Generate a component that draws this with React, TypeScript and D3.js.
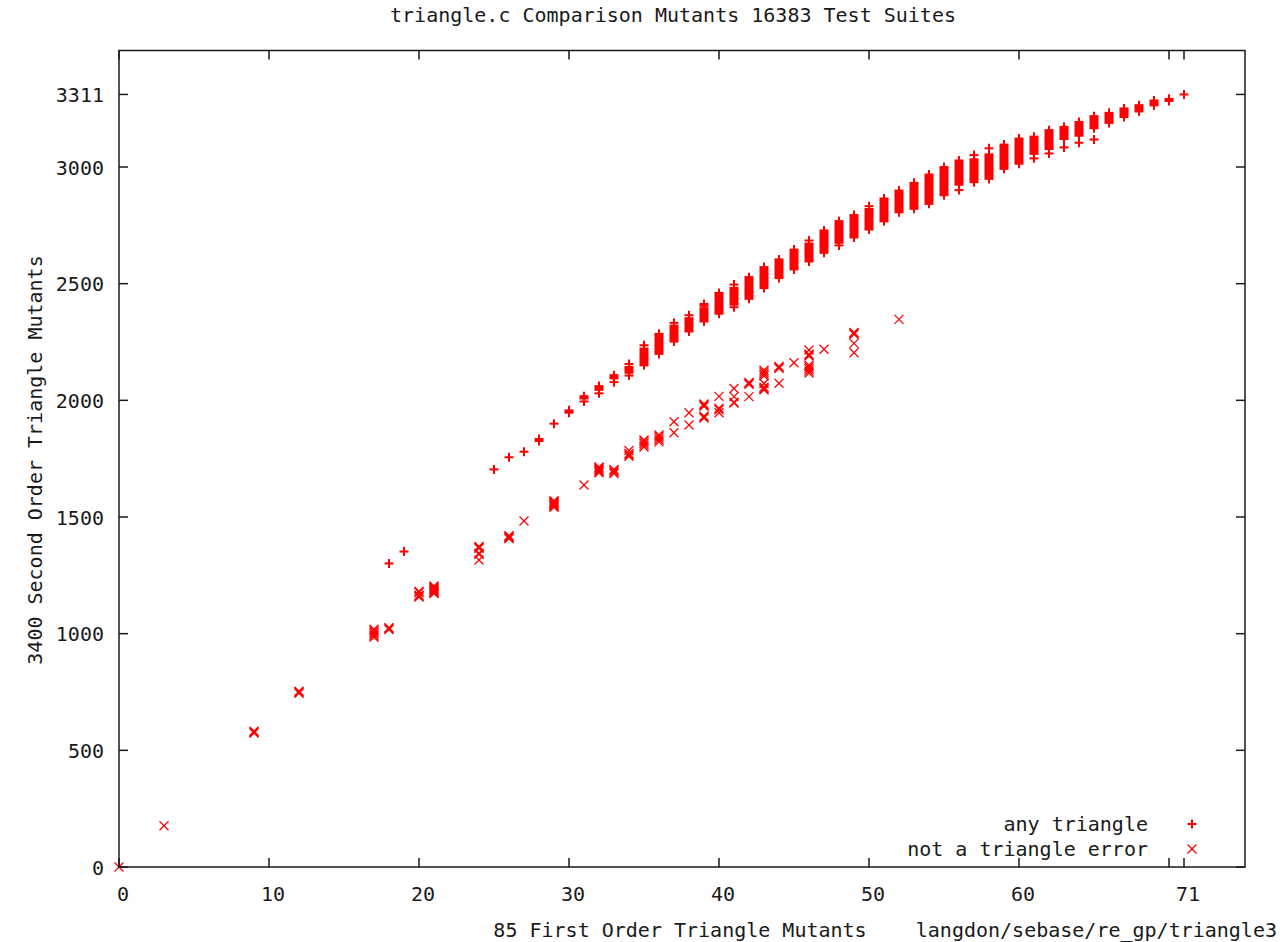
import React from "react";
import * as d3 from "d3";

const TITLE = "triangle.c Comparison Mutants 16383 Test Suites";
const X_LABEL = "85 First Order Triangle Mutants";
const Y_LABEL = "3400 Second Order Triangle Mutants";
const CREDIT = "langdon/sebase/re_gp/triangle3";
const LEGEND = ["any triangle", "not a triangle error"];

const X_TICKS = [0, 10, 20, 30, 40, 50, 60, 70, 71];
const X_TICK_LABELS = ["0", "10", "20", "30", "40", "50", "60", "", "71"];
const Y_TICKS = [0, 500, 1000, 1500, 2000, 2500, 3000, 3311];

// "any triangle": range of second-order kills at each first-order count
const anyX = [18, 19, 25, 26, 27, 28, 29, 30, 31, 32, 33, 34, 35, 36, 37, 38, 39, 40, 41, 42, 43, 44, 45, 46, 47, 48, 49, 50, 51, 52, 53, 54, 55, 56, 57, 58, 59, 60, 61, 62, 63, 64, 65, 66, 67, 68, 69, 70, 71];
const anyLo = [1301, 1352, 1704, 1756, 1780, 1826, 1900, 1947, 2008, 2045, 2094, 2118, 2150, 2199, 2252, 2295, 2338, 2371, 2410, 2435, 2481, 2524, 2561, 2595, 2632, 2675, 2698, 2732, 2767, 2806, 2821, 2842, 2879, 2924, 2935, 2949, 2992, 3014, 3056, 3077, 3120, 3134, 3166, 3189, 3214, 3238, 3264, 3283, 3311];
const anyHi = [1301, 1352, 1704, 1756, 1780, 1834, 1900, 1957, 2018, 2061, 2108, 2143, 2222, 2285, 2320, 2352, 2395, 2460, 2482, 2528, 2571, 2604, 2646, 2672, 2728, 2768, 2794, 2820, 2865, 2899, 2932, 2968, 3000, 3028, 3033, 3054, 3096, 3122, 3130, 3158, 3172, 3193, 3218, 3232, 3251, 3265, 3285, 3292, 3311];
// isolated "any triangle" points outside the dense ranges
const anyExtraX = [31, 32, 33, 34, 34, 35, 37, 38, 39, 39, 41, 41, 46, 48, 50, 56, 57, 58, 61, 62, 63, 64, 65];
const anyExtraY = [1995, 2030, 2078, 2156, 2106, 2236, 2332, 2365, 2405, 2413, 2496, 2399, 2685, 2664, 2832, 2901, 3051, 3080, 3037, 3058, 3084, 3104, 3118];

// "not a triangle error" points
const errX = [0, 3, 9, 12, 17, 18, 20, 21, 24, 26, 27, 29, 31, 32, 33, 34, 35, 36, 37, 38, 39, 40, 41, 42, 43, 44, 45, 46, 47, 49, 52];
const errY: number[][] = [
  [0],
  [177],
  [574, 578, 582],
  [745, 749, 753],
  [985, 992, 999, 1006, 1013, 1019],
  [1018, 1022, 1026],
  [1157, 1161, 1165, 1176, 1182],
  [1172, 1176, 1180, 1184, 1188, 1192, 1196, 1200, 1204],
  [1316, 1340, 1345, 1366, 1370, 1374],
  [1408, 1412, 1416, 1420],
  [1483],
  [1542, 1546, 1550, 1554, 1558, 1562, 1566, 1570],
  [1637],
  [1690, 1695, 1700, 1705, 1710, 1714],
  [1686, 1692, 1698, 1704],
  [1760, 1766, 1772, 1785],
  [1800, 1808, 1816, 1824, 1830],
  [1822, 1830, 1838, 1846, 1852],
  [1861, 1908],
  [1894, 1947],
  [1924, 1928, 1932, 1975, 1980, 1984],
  [1947, 1960, 1966, 2017],
  [1988, 1992, 2016, 2051],
  [2016, 2069, 2073, 2077],
  [2045, 2050, 2056, 2072, 2105, 2113, 2121, 2129],
  [2073, 2137, 2141, 2145],
  [2161],
  [2117, 2126, 2135, 2144, 2151, 2190, 2194, 2198, 2216],
  [2219],
  [2204, 2244, 2283, 2287, 2291],
  [2347],
];

const W = 1283;
const H = 942;
const LEFT = 119;
const RIGHT = 1245;
const TOP = 50.5;
const BOTTOM = 867;
const RED = "#ff0000";
const INK = "#1a1a1a";
const FONT = "'DejaVu Sans Mono', monospace";
const FS = 20;
const TICK = 9;
const PH = 4.5; // plus half size
const PW = 2; // plus stroke
const XH = 4.5; // cross half size

export default function App() {
  const x = d3.scaleLinear().domain([0, 75]).range([LEFT, LEFT + 75 * 15]);
  const y = d3.scaleLinear().domain([0, 3500]).range([BOTTOM, BOTTOM - 3500 * (700 / 3000)]);

  const plus = (cx: number, cy: number, key: string) => (
    <g key={key}>
      <line x1={cx - PH} x2={cx + PH} y1={cy} y2={cy} stroke={RED} strokeWidth={PW} />
      <line x1={cx} x2={cx} y1={cy - PH} y2={cy + PH} stroke={RED} strokeWidth={PW} />
    </g>
  );
  const cross = (cx: number, cy: number, key: string) => (
    <g key={key}>
      <line x1={cx - XH} x2={cx + XH} y1={cy - XH} y2={cy + XH} stroke={RED} strokeWidth={1.3} />
      <line x1={cx - XH} x2={cx + XH} y1={cy + XH} y2={cy - XH} stroke={RED} strokeWidth={1.3} />
    </g>
  );

  const anyMarks = anyX.map((v, i) => {
    const cx = x(v);
    const yHi = y(anyHi[i]);
    const yLo = y(anyLo[i]);
    return (
      <g key={"a" + i}>
        <rect x={cx - PH} y={yHi - PW / 2} width={PH * 2} height={yLo - yHi + PW} fill={RED} />
        <line x1={cx} x2={cx} y1={yHi - PH} y2={yLo + PH} stroke={RED} strokeWidth={PW} />
      </g>
    );
  });
  const anyExtras = anyExtraX.map((v, i) => plus(x(v), y(anyExtraY[i]), "e" + i));
  const errMarks = errX.flatMap((v, i) => errY[i].map((yy, j) => cross(x(v), y(yy), `x${i}_${j}`)));

  return (
    <svg width={W} height={H} style={{ position: "absolute", left: 0, top: 0, background: "#fff" }} fontFamily={FONT} fontSize={FS}>
      <rect x={0} y={0} width={W} height={H} fill="#fff" />
      <text x={673} y={22} textAnchor="middle" fill={INK}>{TITLE}</text>

      {/* ticks */}
      {X_TICKS.map((t, i) => (
        <g key={"xt" + i}>
          <line x1={x(t)} x2={x(t)} y1={BOTTOM} y2={BOTTOM - TICK} stroke={INK} strokeWidth={1.5} />
          <line x1={x(t)} x2={x(t)} y1={TOP} y2={TOP + TICK} stroke={INK} strokeWidth={1.5} />
          <text x={x(t) + 4} y={901} textAnchor="middle" fill={INK}>{X_TICK_LABELS[i]}</text>
        </g>
      ))}
      {Y_TICKS.map((t, i) => (
        <g key={"yt" + i}>
          <line x1={LEFT} x2={LEFT + TICK} y1={y(t)} y2={y(t)} stroke={INK} strokeWidth={1.5} />
          <line x1={RIGHT} x2={RIGHT - TICK} y1={y(t)} y2={y(t)} stroke={INK} strokeWidth={1.5} />
          <text x={104} y={y(t) + 7.5} textAnchor="end" fill={INK}>{t}</text>
        </g>
      ))}

      {/* data */}
      <g>{errMarks}</g>
      <g>{anyMarks}</g>
      <g>{anyExtras}</g>

      {/* border */}
      <rect x={LEFT} y={TOP} width={RIGHT - LEFT} height={BOTTOM - TOP} fill="none" stroke={INK} strokeWidth={1.5} />

      {/* legend */}
      <text x={1148} y={831} textAnchor="end" fill={INK}>{LEGEND[0]}</text>
      {plus(1192, 824, "lg0")}
      <text x={1148} y={856} textAnchor="end" fill={INK}>{LEGEND[1]}</text>
      {cross(1192, 849, "lg1")}

      {/* axis labels */}
      <text x={680} y={937} textAnchor="middle" fill={INK}>{X_LABEL}</text>
      <text x={1277} y={937} textAnchor="end" fill={INK}>{CREDIT}</text>
      <text transform="translate(42,460) rotate(-90)" textAnchor="middle" fill={INK}>{Y_LABEL}</text>
    </svg>
  );
}
